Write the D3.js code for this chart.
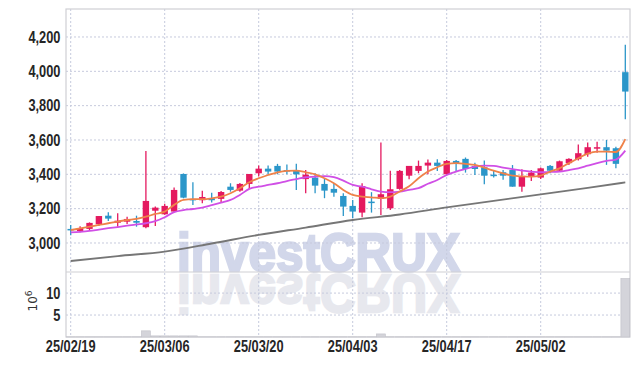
<!DOCTYPE html>
<html>
<head>
<meta charset="utf-8">
<script src="https://cdn.jsdelivr.net/npm/d3@7"></script>
<style>
  body { margin: 0; background: #fff; }
  svg { display: block; }
  .tick text { font-family: "Liberation Sans", Arial, sans-serif; font-weight: bold; font-size: 16px; fill: #262626; }
  .grid line { stroke: #c6cadd; stroke-dasharray: 2,2; stroke-width: 1; }
  .frame { stroke: #cfcfd4; stroke-width: 1.2; fill: none; }
</style>
</head>
<body>
<svg id="chart" width="639" height="366"></svg>
<script>
// trading days shown (categories)
const dates = ["25/02/19","25/02/20","25/02/21","25/02/24","25/02/25","25/02/26","25/02/27","25/02/28","25/03/04","25/03/05",
  "25/03/06","25/03/07","25/03/10","25/03/11","25/03/12","25/03/13","25/03/14","25/03/17","25/03/18","25/03/19",
  "25/03/20","25/03/21","25/03/24","25/03/25","25/03/26","25/03/27","25/03/28","25/03/31","25/04/01","25/04/02",
  "25/04/03","25/04/04","25/04/07","25/04/08","25/04/09","25/04/10","25/04/11","25/04/14","25/04/15","25/04/16",
  "25/04/17","25/04/18","25/04/21","25/04/22","25/04/23","25/04/24","25/04/25","25/04/28","25/04/29","25/04/30",
  "25/05/02","25/05/07","25/05/08","25/05/09","25/05/12","25/05/13","25/05/14","25/05/15","25/05/16","25/05/19"];

const open  = [3082,3070,3082,3109,3159,3118,3124,3128,3092,3188, 3167,3183,3402,3257,3249,3260,3257,3328,3305,3344,
  3406,3433,3449,3425,3421,3372,3381,3344,3315,3274, 3216,3177,3241,3257,3202,3315,3392,3420,3451,3468,
  3400,3478,3490,3449,3441,3398,3412,3425,3328,3386, 3381,3449,3421,3465,3488,3517,3550,3558,3552,3995];
const high  = [3105,3097,3120,3157,3179,3173,3153,3159,3536,3212, 3228,3323,3405,3354,3305,3292,3303,3348,3350,3402,
  3451,3451,3461,3457,3461,3425,3406,3377,3350,3290, 3251,3348,3296,3585,3421,3425,3449,3480,3486,3488,
  3484,3484,3498,3468,3480,3425,3425,3454,3430,3425, 3440,3454,3480,3494,3573,3585,3589,3600,3560,4155];
const low   = [3045,3062,3075,3099,3128,3095,3111,3095,3086,3099, 3165,3180,3260,3222,3231,3236,3236,3299,3299,3315,
  3387,3400,3400,3400,3309,3290,3290,3261,3270,3157, 3146,3150,3177,3163,3192,3310,3371,3406,3400,3420,
  3394,3420,3410,3396,3342,3381,3369,3328,3299,3361, 3373,3406,3415,3454,3480,3502,3525,3455,3435,3721];
const close = [3076,3087,3117,3157,3142,3130,3140,3118,3245,3206, 3216,3309,3264,3250,3268,3249,3297,3309,3344,3402,
  3433,3416,3416,3420,3400,3398,3334,3305,3293,3212, 3183,3332,3236,3284,3313,3420,3449,3449,3468,3449,
  3478,3464,3431,3431,3392,3392,3392,3328,3386,3410, 3435,3421,3476,3490,3523,3558,3558,3538,3461,3882];

// moving averages
const ma5  = [3075,3085,3095,3105,3115,3125,3134,3140,3153,3169, 3183,3222,3251,3255,3255,3260,3270,3290,3319,3354,
  3377,3396,3412,3420,3421,3412,3400,3377,3348,3309, 3280,3270,3266,3261,3270,3300,3330,3377,3416,3441,
  3461,3465,3461,3455,3439,3421,3406,3392,3388,3386, 3392,3416,3435,3465,3494,3520,3532,3532,3530,3605];
const ma20 = [3062,3065,3070,3078,3086,3093,3101,3108,3115,3127, 3150,3180,3192,3198,3206,3220,3235,3251,3280,3315,
  3328,3338,3348,3361,3372,3383,3386,3390,3383,3363, 3338,3328,3313,3299,3296,3299,3310,3319,3345,3367,
  3396,3416,3431,3445,3451,3449,3439,3430,3421,3416, 3412,3414,3416,3425,3435,3450,3465,3478,3486,3538];
const maLongIdx = [0,5,10,15,20,25,30,35,40,45,50,55,59];
const maLong    = [2895,2924,2950,2997,3047,3090,3134,3166,3207,3245,3283,3321,3353];

// volume, millions
const volume = [0.03,0.03,0.03,0.03,0.03,0.03,0.03,0.03,1.4,0.25, 0.25,0.25,0.25,0.25,0.03,0.03,0.03,0.03,0.03,0.03,
  0.03,0.03,0.03,0.03,0.03,0.03,0.03,0.03,0.03,0.03, 0.03,0.03,0.03,0.7,0.03,0.03,0.03,0.03,0.03,0.03,
  0.03,0.03,0.03,0.03,0.03,0.03,0.03,0.03,0.03,0.03, 0.03,0.03,0.03,0.03,0.03,0.03,0.03,0.03,0.03,13.3];

const priceTicks = [3000,3200,3400,3600,3800,4000,4200];
const volTicks = [5,10];
const dateTicks = dates.filter((d,i) => i % 10 === 0);

const upColor = "#e4195f", downColor = "#2b96c9";

let pLeft = 66, pRight = 630, pTop = 9, pMid = 272, pBottom = 337;

let svg = d3.select("#chart");

let x = d3.scaleBand().domain(dates).range([pLeft, pRight]);
let bw = x.bandwidth();
let cx = d => x(d) + bw / 2;

let y = d3.scaleLinear().domain([2831, 4363]).range([pMid, pTop]);
let yv = d3.scaleLinear().domain([0, 14.8]).range([pBottom, pMid]);

// watermark + reflection
let wm = svg.append("g");
wm.append("text")
  .attr("x", 177).attr("y", 271)
  .attr("textLength", 283).attr("lengthAdjust", "spacingAndGlyphs")
  .style("font-family", "Liberation Sans, Arial, sans-serif")
  .style("font-weight", "bold").style("font-size", "53px")
  .attr("fill", "#d2d7ea").attr("stroke", "#d2d7ea").attr("stroke-width", 2.4)
  .text("investCRUX");
wm.append("text")
  .attr("x", 177).attr("y", -275)
  .attr("transform", "scale(1,-1)")
  .attr("textLength", 283).attr("lengthAdjust", "spacingAndGlyphs")
  .style("font-family", "Liberation Sans, Arial, sans-serif")
  .style("font-weight", "bold").style("font-size", "53px")
  .attr("fill", "#e7e8ee").attr("stroke", "#e7e8ee").attr("stroke-width", 2.4)
  .text("investCRUX");

// grid
let grid = svg.append("g").attr("class", "grid");
grid.selectAll(".hp").data(priceTicks).enter().append("line")
  .attr("x1", pLeft).attr("x2", pRight)
  .attr("y1", d => y(d)).attr("y2", d => y(d));
grid.selectAll(".hv").data(volTicks).enter().append("line")
  .attr("x1", pLeft).attr("x2", pRight)
  .attr("y1", d => yv(d)).attr("y2", d => yv(d));
grid.selectAll(".vx").data(dateTicks).enter().append("line")
  .attr("x1", d => cx(d)).attr("x2", d => cx(d))
  .attr("y1", pTop).attr("y2", pBottom);

// frame
svg.append("rect").attr("class", "frame")
  .attr("x", pLeft).attr("y", pTop).attr("width", pRight - pLeft).attr("height", pBottom - pTop);
svg.append("line").attr("class", "frame")
  .attr("x1", pLeft).attr("x2", pRight).attr("y1", pMid).attr("y2", pMid);

// volume bars
svg.append("g").selectAll("rect").data(volume).enter().append("rect")
  .attr("x", (d,i) => x(dates[i]) + 0.3)
  .attr("width", bw - 0.6)
  .attr("y", d => yv(d))
  .attr("height", d => pBottom - yv(d))
  .attr("fill", "#d4d4da")
  .attr("stroke", "#bfbfc6").attr("stroke-width", 0.6);

// candles
let candles = svg.append("g").selectAll("g").data(dates).enter().append("g");
candles.append("line")
  .attr("x1", d => cx(d)).attr("x2", d => cx(d))
  .attr("y1", (d,i) => y(high[i])).attr("y2", (d,i) => y(low[i]))
  .attr("stroke", (d,i) => close[i] >= open[i] ? upColor : downColor)
  .attr("stroke-width", 1.3);
candles.append("rect")
  .attr("x", d => cx(d) - 3.2)
  .attr("width", 6.4)
  .attr("y", (d,i) => y(Math.max(open[i], close[i])))
  .attr("height", (d,i) => Math.max(1.5, Math.abs(y(open[i]) - y(close[i]))))
  .attr("fill", (d,i) => close[i] >= open[i] ? upColor : downColor);

// moving averages
let line = d3.line()
  .x(d => cx(dates[d[0]]))
  .y(d => y(d[1]))
  .curve(d3.curveMonotoneX);

svg.append("path")
  .datum(maLongIdx.map((k,j) => [k, maLong[j]]))
  .attr("d", line).attr("fill", "none")
  .attr("stroke", "#767676").attr("stroke-width", 1.8);
svg.append("path")
  .datum(ma20.map((v,i) => [i, v]))
  .attr("d", line).attr("fill", "none")
  .attr("stroke", "#d04fe6").attr("stroke-width", 1.8);
svg.append("path")
  .datum(ma5.map((v,i) => [i, v]))
  .attr("d", line).attr("fill", "none")
  .attr("stroke", "#ef8249").attr("stroke-width", 1.8);

// axes (labels narrowed to match the condensed face)
let narrow = g => g.selectAll(".tick text").attr("transform", "scale(0.8,1)");

let yAxis = d3.axisLeft(y).tickValues(priceTicks).tickSize(0).tickPadding(7).tickFormat(d3.format(","));
svg.append("g").attr("transform", "translate(" + pLeft + ",0)").call(yAxis)
  .call(g => g.select(".domain").remove()).call(narrow);

let vAxis = d3.axisLeft(yv).tickValues(volTicks).tickSize(0).tickPadding(7);
svg.append("g").attr("transform", "translate(" + pLeft + ",0)").call(vAxis)
  .call(g => g.select(".domain").remove()).call(narrow);

let xAxis = d3.axisBottom(x).tickValues(dateTicks).tickSize(0).tickPadding(4);
svg.append("g").attr("transform", "translate(0," + pBottom + ")").call(xAxis)
  .call(g => g.select(".domain").remove()).call(narrow);

// volume unit label
let unit = svg.append("text")
  .attr("transform", "translate(37,301) rotate(-90)")
  .attr("text-anchor", "middle")
  .style("font-family", "DejaVu Sans, sans-serif").style("font-size", "12px")
  .attr("fill", "#333");
unit.append("tspan").text("10");
unit.append("tspan").attr("dy", -5).style("font-size", "9px").text("6");
</script>
</body>
</html>
